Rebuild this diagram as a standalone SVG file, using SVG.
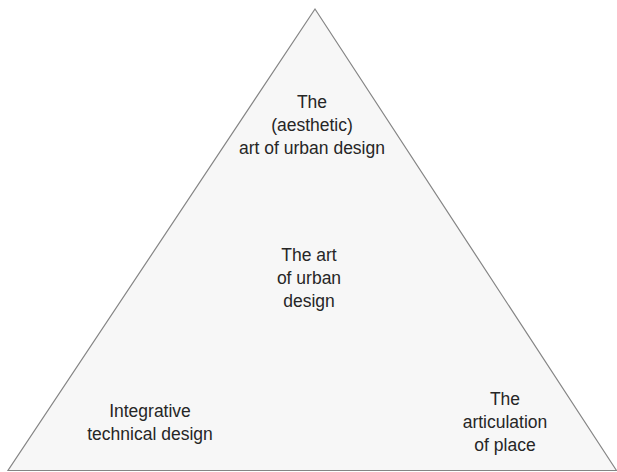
<svg xmlns="http://www.w3.org/2000/svg" width="617" height="472" viewBox="0 0 617 472">
<style>
text{font-family:"Liberation Sans",Arial,sans-serif;font-size:17.5px;fill:#262626;text-anchor:middle}
.tri{fill:#f7f7f7;stroke:#858585;stroke-width:1.2}
</style>
<rect width="617" height="472" fill="#fff"/>
<g id="triangle"><polygon class="tri" points="315,9 8,470.5 616.5,470.5"/></g>
<g id="top"><text x="312" y="107.5">The</text><text x="312" y="130.5">(aesthetic)</text><text x="312" y="153.5">art of urban design</text></g>
<g id="center"><text x="309" y="261">The art</text><text x="309" y="284">of urban</text><text x="309" y="307">design</text></g>
<g id="left"><text x="150" y="417">Integrative</text><text x="150" y="440">technical design</text></g>
<g id="right"><text x="505" y="405">The</text><text x="505" y="428">articulation</text><text x="505" y="451">of place</text></g>
<g id="connectors"/>
</svg>
